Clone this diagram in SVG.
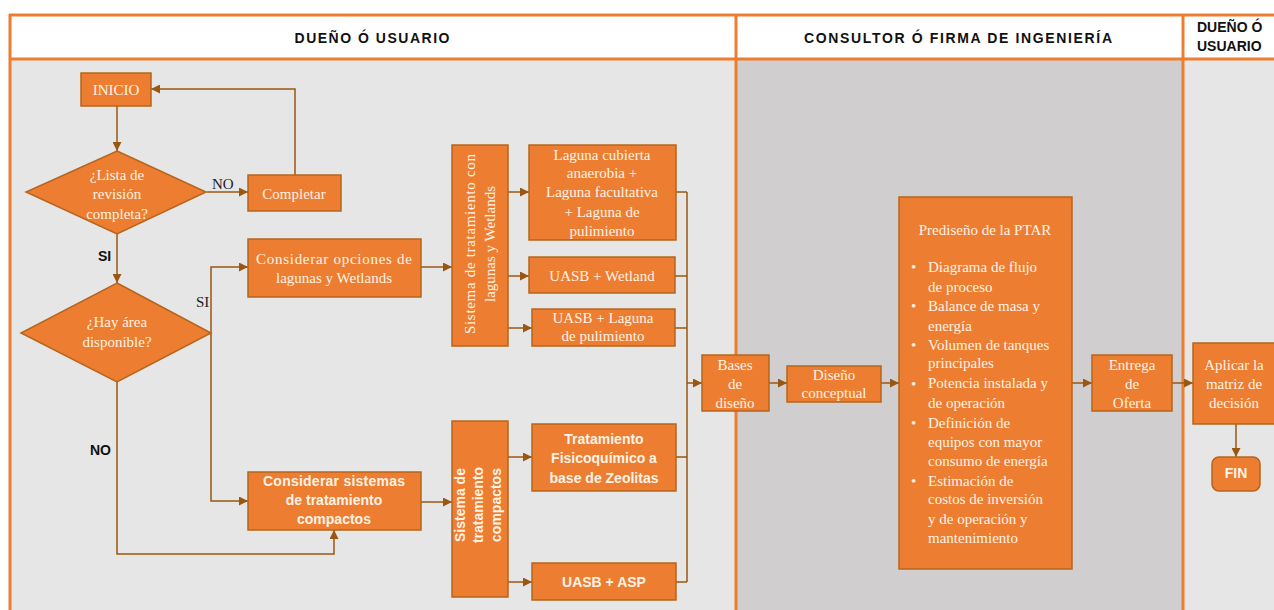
<svg xmlns="http://www.w3.org/2000/svg" width="1274" height="610" viewBox="0 0 1274 610">
<defs>
<marker id="ah" viewBox="0 0 10 10" refX="10" refY="5" markerWidth="9" markerHeight="9" markerUnits="userSpaceOnUse" orient="auto">
<path d="M0,0 L10,5 L0,10 z" fill="#9a5712"/>
</marker>
</defs>
<style>
.box{fill:#ED7D31;stroke:#b5651d;stroke-width:1.5}
.s{font-family:"Liberation Serif","Times New Roman",serif;font-size:15px;fill:#fff3e6}
.b{font-family:"Liberation Sans",Arial,sans-serif;font-size:14px;font-weight:bold;fill:#fff3e6}
.h{font-family:"Liberation Sans",Arial,sans-serif;font-size:14px;font-weight:bold;fill:#111}
.lbl{font-family:"Liberation Serif","Times New Roman",serif;font-size:15px;fill:#1a1a2a}
.lblb{font-family:"Liberation Sans",Arial,sans-serif;font-size:14px;font-weight:bold;fill:#111}
.c{fill:none;stroke:#9a5712;stroke-width:1.5}
.ca{fill:none;stroke:#9a5712;stroke-width:1.5;marker-end:url(#ah)}
.fr{stroke:#ED7D31;stroke-width:3;fill:none}
</style>
<rect x="0" y="0" width="1274" height="610" fill="#ffffff"/>
<rect x="10" y="59" width="726" height="551" fill="#e6e6e6"/>
<rect x="736" y="59" width="447" height="551" fill="#d0cece"/>
<rect x="1183" y="59" width="91" height="551" fill="#e6e6e6"/>
<g id="frame">
<line class="fr" x1="9" y1="15" x2="1274" y2="15"/>
<line class="fr" x1="10" y1="59" x2="1274" y2="59"/>
<line class="fr" x1="10" y1="14" x2="10" y2="610"/>
<line class="fr" x1="736" y1="14" x2="736" y2="610"/>
<line class="fr" x1="1183" y1="14" x2="1183" y2="610"/>
</g>
<g id="headers">
<text class="h" x="372" y="43" text-anchor="middle" textLength="155" lengthAdjust="spacing">DUEÑO Ó USUARIO</text>
<text class="h" x="958" y="43" text-anchor="middle" textLength="308" lengthAdjust="spacing">CONSULTOR Ó FIRMA DE INGENIERÍA</text>
<text class="h" x="1197" y="32">DUEÑO Ó</text>
<text class="h" x="1197" y="51">USUARIO</text>
</g>
<g id="connectors">
<path class="ca" d="M117,106 V151"/>
<path class="ca" d="M207,192 H248"/>
<path class="ca" d="M295,175 V89 H151"/>
<path class="ca" d="M117,234 V283"/>
<path class="ca" d="M211,333 V267 H248"/>
<path class="ca" d="M211,333 V501 H248"/>
<path class="ca" d="M117,382 V554 H334 V530"/>
<path class="ca" d="M421,267 H452"/>
<path class="ca" d="M421,502 H452"/>
<path class="ca" d="M508,192 H529"/>
<path class="ca" d="M508,276 H529"/>
<path class="ca" d="M508,328 H532"/>
<path class="ca" d="M508,457 H532"/>
<path class="ca" d="M508,582 H532"/>
<path class="c" d="M676,192 H687 M675,276 H687 M675,328 H687 M676,457 H687 M676,582 H687 M687,192 V582"/>
<path class="ca" d="M687,383 H702"/>
<path class="ca" d="M769,383 H787"/>
<path class="ca" d="M881,383 H899"/>
<path class="ca" d="M1072,383 H1092"/>
<path class="ca" d="M1172,383 H1193"/>
<path class="ca" d="M1236,424 V457"/>
<text class="lbl" x="212" y="189">NO</text>
<text class="lblb" x="98" y="261">SI</text>
<text class="lbl" x="196" y="307">SI</text>
<text class="lblb" x="90" y="455">NO</text>
</g>
<g id="inicio">
<rect class="box" x="81" y="73" width="70" height="33"/>
<text class="s" x="116" y="95" text-anchor="middle">INICIO</text>
</g>
<g id="lista">
<polygon class="box" points="117,151 206,192 117,234 26,192"/>
<text class="s" x="117" y="180" text-anchor="middle">¿Lista de</text>
<text class="s" x="117" y="199" text-anchor="middle">revisión</text>
<text class="s" x="117" y="219" text-anchor="middle">completa?</text>
</g>
<g id="completar">
<rect class="box" x="248" y="175" width="93" height="36"/>
<text class="s" x="294" y="199" text-anchor="middle">Completar</text>
</g>
<g id="area">
<polygon class="box" points="117,283 211,333 117,382 21,333"/>
<text class="s" x="117" y="327" text-anchor="middle">¿Hay área</text>
<text class="s" x="117" y="347" text-anchor="middle">disponible?</text>
</g>
<g id="opciones">
<rect class="box" x="248" y="239" width="173" height="58"/>
<text class="s" x="334" y="264" text-anchor="middle" textLength="156" lengthAdjust="spacing">Considerar opciones de</text>
<text class="s" x="334" y="283" text-anchor="middle">lagunas y Wetlands</text>
</g>
<g id="compactos">
<rect class="box" x="248" y="472" width="173" height="58"/>
<text class="b" x="334" y="486" text-anchor="middle" textLength="142" lengthAdjust="spacing">Considerar sistemas</text>
<text class="b" x="334" y="505" text-anchor="middle">de tratamiento</text>
<text class="b" x="334" y="524" text-anchor="middle">compactos</text>
</g>
<g id="sist-lagunas">
<rect class="box" x="452" y="145" width="56" height="201"/>
<g transform="translate(480,244) rotate(-90)">
<text class="s" x="0" y="-5" text-anchor="middle" textLength="180" lengthAdjust="spacing">Sistema de tratamiento con</text>
<text class="s" x="0" y="15" text-anchor="middle">lagunas y Wetlands</text>
</g>
</g>
<g id="laguna-cubierta">
<rect class="box" x="529" y="145" width="147" height="95"/>
<text class="s" x="602" y="160" text-anchor="middle">Laguna cubierta</text>
<text class="s" x="602" y="178" text-anchor="middle">anaerobia +</text>
<text class="s" x="602" y="197" text-anchor="middle">Laguna facultativa</text>
<text class="s" x="602" y="217" text-anchor="middle">+ Laguna de</text>
<text class="s" x="602" y="236" text-anchor="middle">pulimiento</text>
</g>
<g id="uasb-wetland">
<rect class="box" x="529" y="257" width="146" height="36"/>
<text class="s" x="602" y="281" text-anchor="middle">UASB + Wetland</text>
</g>
<g id="uasb-laguna">
<rect class="box" x="532" y="309" width="143" height="37"/>
<text class="s" x="603" y="323" text-anchor="middle">UASB + Laguna</text>
<text class="s" x="603" y="341" text-anchor="middle">de pulimiento</text>
</g>
<g id="sist-compactos">
<rect class="box" x="452" y="421" width="56" height="176"/>
<g transform="translate(478,505) rotate(-90)">
<text class="b" x="0" y="-13" text-anchor="middle">Sistema de</text>
<text class="b" x="0" y="5" text-anchor="middle">tratamiento</text>
<text class="b" x="0" y="23" text-anchor="middle">compactos</text>
</g>
</g>
<g id="zeolitas">
<rect class="box" x="532" y="424" width="144" height="67"/>
<text class="b" x="604" y="444" text-anchor="middle">Tratamiento</text>
<text class="b" x="604" y="463" text-anchor="middle">Fisicoquímico a</text>
<text class="b" x="604" y="483" text-anchor="middle">base de Zeolitas</text>
</g>
<g id="uasb-asp">
<rect class="box" x="532" y="563" width="144" height="37"/>
<text class="b" x="604" y="587" text-anchor="middle">UASB + ASP</text>
</g>
<g id="bases">
<rect class="box" x="702" y="355" width="67" height="56"/>
<text class="s" x="735" y="370" text-anchor="middle">Bases</text>
<text class="s" x="735" y="389" text-anchor="middle">de</text>
<text class="s" x="735" y="408" text-anchor="middle">diseño</text>
</g>
<g id="conceptual">
<rect class="box" x="787" y="366" width="94" height="36"/>
<text class="s" x="834" y="380" text-anchor="middle">Diseño</text>
<text class="s" x="834" y="398" text-anchor="middle">conceptual</text>
</g>
<g id="prediseno">
<rect class="box" x="899" y="197" width="173" height="372"/>
<text class="s" x="985" y="235" text-anchor="middle">Prediseño de la PTAR</text>
<text class="s" x="911" y="272">•</text>
<text class="s" x="911" y="311">•</text>
<text class="s" x="911" y="350">•</text>
<text class="s" x="911" y="389">•</text>
<text class="s" x="911" y="428">•</text>
<text class="s" x="911" y="486">•</text>
<text class="s" x="928" y="272">Diagrama de flujo</text>
<text class="s" x="928" y="292">de proceso</text>
<text class="s" x="928" y="311">Balance de masa y</text>
<text class="s" x="928" y="331">energía</text>
<text class="s" x="928" y="350">Volumen de tanques</text>
<text class="s" x="928" y="368">principales</text>
<text class="s" x="928" y="388">Potencia instalada y</text>
<text class="s" x="928" y="408">de operación</text>
<text class="s" x="928" y="428">Definición de</text>
<text class="s" x="928" y="447">equipos con mayor</text>
<text class="s" x="928" y="466">consumo de energía</text>
<text class="s" x="928" y="486">Estimación de</text>
<text class="s" x="928" y="504">costos de inversión</text>
<text class="s" x="928" y="524">y de operación y</text>
<text class="s" x="928" y="543">mantenimiento</text>
</g>
<g id="entrega">
<rect class="box" x="1092" y="355" width="80" height="56"/>
<text class="s" x="1132" y="370" text-anchor="middle">Entrega</text>
<text class="s" x="1132" y="389" text-anchor="middle">de</text>
<text class="s" x="1132" y="408" text-anchor="middle">Oferta</text>
</g>
<g id="aplicar">
<rect class="box" x="1193" y="343" width="90" height="81"/>
<text class="s" x="1234" y="370" text-anchor="middle">Aplicar la</text>
<text class="s" x="1234" y="389" text-anchor="middle">matriz de</text>
<text class="s" x="1234" y="408" text-anchor="middle">decisión</text>
</g>
<g id="fin">
<rect class="box" x="1212" y="457" width="48" height="34" rx="7"/>
<text class="b" x="1236" y="478" text-anchor="middle" font-size="13">FIN</text>
</g>
</svg>
